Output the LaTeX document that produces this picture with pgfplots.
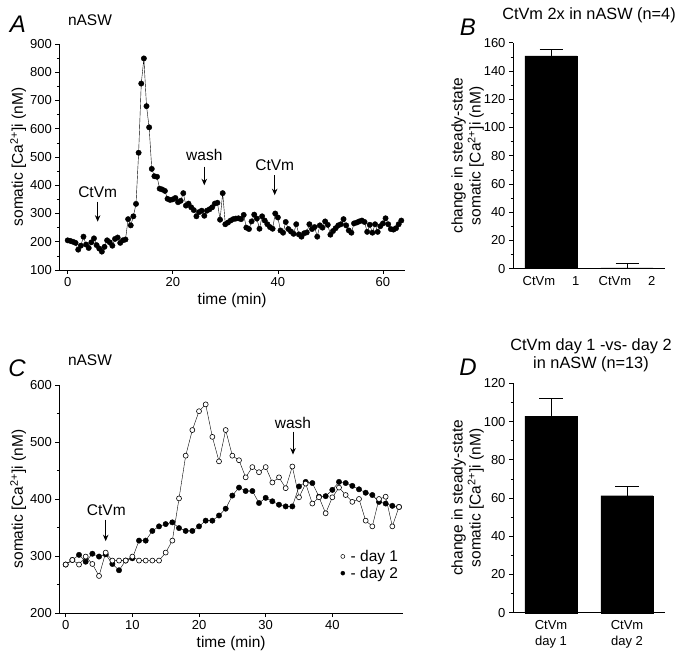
\documentclass[border=0pt]{standalone}
\usepackage{fontspec}
\setmainfont{Liberation Sans}
\usepackage{pgfplots}
\pgfplotsset{compat=1.18}
\usetikzlibrary{arrows.meta}

\pgfplotsset{
  myax/.style={scale only axis, axis lines*=left, tick align=outside, anchor=south west,
    axis line style={line width=0.6pt}, tick style={line width=0.6pt, black},
    tick label style={font=\fontsize{13}{13}\selectfont},
    label style={font=\fontsize{15.5}{18}\selectfont},
    /pgf/number format/assume math mode=true,
    major tick length=4pt, minor tick length=2.5pt, clip=false},
}
\tikzset{
  annot/.style={font=\fontsize{15.5}{18}\selectfont},
  ttl/.style={font=\fontsize{16.3}{18}\selectfont},
  arr/.style={-{Stealth[length=6.5pt,width=5.5pt]}, line width=1pt},
}

\pgfplotstableread[row sep=\\]{
t v\\
0 205\\ 0.5 203\\ 1 200\\ 1.5 196\\ 2 172\\ 2.5 186\\ 3 218\\ 3.5 190\\ 4 178\\ 4.5 198\\
5 212\\ 5.5 188\\ 6 176\\ 6.5 165\\ 7 182\\ 7.5 205\\ 8 198\\ 8.5 186\\ 9 210\\ 9.5 215\\
10 196\\ 10.5 205\\ 11 208\\ 11.5 280\\ 12 258\\ 12.5 290\\ 13 334\\ 13.5 515\\ 14 760\\ 14.5 849\\
15 680\\ 15.5 605\\ 16 458\\ 16.5 432\\ 17 430\\ 17.5 388\\ 18 385\\ 18.5 380\\ 19 352\\ 19.5 348\\
20 350\\ 20.5 355\\ 21 340\\ 21.5 345\\ 22 372\\ 22.5 328\\ 23 335\\ 23.5 322\\ 24 312\\ 24.5 290\\
25 305\\ 25.5 310\\ 26 292\\ 26.5 310\\ 27 315\\ 27.5 322\\ 28 335\\ 28.5 338\\ 29 278\\ 29.5 372\\
30 262\\ 30.5 268\\ 31 275\\ 31.5 280\\ 32 282\\ 32.5 283\\ 33 280\\ 33.5 295\\ 34 250\\ 34.5 245\\
35 272\\ 35.5 296\\ 36 282\\ 36.5 246\\ 37 290\\ 37.5 275\\ 38 262\\ 38.5 252\\ 39 246\\ 39.5 300\\
40 286\\ 40.5 240\\ 41 232\\ 41.5 270\\ 42 245\\ 42.5 236\\ 43 228\\ 43.5 262\\ 44 226\\ 44.5 218\\
45 230\\ 45.5 233\\ 46 262\\ 46.5 245\\ 47 252\\ 47.5 218\\ 48 258\\ 48.5 250\\ 49 272\\ 49.5 260\\
50 225\\ 50.5 238\\ 51 248\\ 51.5 258\\ 52 262\\ 52.5 280\\ 53 258\\ 53.5 240\\ 54 232\\ 54.5 265\\
55 268\\ 55.5 272\\ 56 275\\ 56.5 270\\ 57 235\\ 57.5 260\\ 58 232\\ 58.5 262\\ 59 235\\ 59.5 255\\
60 265\\ 60.5 283\\ 61 262\\ 61.5 245\\ 62 243\\ 62.5 248\\ 63 262\\ 63.5 275\\
}\dataA

\pgfplotstableread[row sep=\\]{
t d1 d2\\
0 285 285\\ 1 293 293\\ 2 285 302\\ 3 299 290\\ 4 286 304\\ 5 265 299\\ 6 306 303\\ 7 292 286\\
8 292 275\\ 9 292 292\\ 10 299 296\\ 11 292 327\\ 12 292 327\\ 13 292 344\\ 14 292 352\\ 15 306 356\\
16 327 359\\ 17 401 349\\ 18 476 344\\ 19 521 344\\ 20 554 352\\ 21 566 362\\ 22 509 362\\ 23 466 371\\
24 521 383\\ 25 476 406\\ 26 468 420\\ 27 438 414\\ 28 456 414\\ 29 447 393\\ 30 456 402\\ 31 429 396\\
32 438 390\\ 33 419 387\\ 34 457 387\\ 35 403 422\\ 36 427 430\\ 37 392 428\\ 38 403 404\\ 39 375 405\\
40 403 416\\ 41 420 430\\ 42 407 428\\ 43 395 423\\ 44 400 417\\ 45 362 411\\ 46 352 407\\ 47 400 395\\
48 404 392\\ 49 352 388\\ 50 386 386\\
}\dataC

\begin{document}
\begin{tikzpicture}
\useasboundingbox (0pt,0pt) rectangle (681pt,657pt);

% Panel letters and titles
\node[font=\fontsize{24}{24}\selectfont\itshape] at (18pt,633pt) {A};
\node[font=\fontsize{24}{24}\selectfont\itshape] at (468pt,630pt) {B};
\node[font=\fontsize{24}{24}\selectfont\itshape] at (17pt,289pt) {C};
\node[font=\fontsize{24}{24}\selectfont\itshape] at (468pt,290pt) {D};
\node[annot] at (90pt,637pt) {nASW};
\node[annot] at (90pt,297pt) {nASW};
\node[ttl] at (589pt,642pt) {CtVm 2x in nASW (n=4)};
\node[ttl, align=center] at (591pt,302pt) {CtVm day 1 -vs- day 2\\in nASW (n=13)};

% Panel A
\begin{axis}[myax, at={(59.3pt,387pt)}, width=345.7pt, height=226pt,
  xmin=-1.6, xmax=64.2, ymin=100, ymax=900,
  xtick={0,20,40,60}, ytick={100,200,...,900}, minor y tick num=1,
  ylabel style={yshift=-3pt},
  xlabel={time (min)}, ylabel={somatic [Ca\textsuperscript{2+}]i (nM)}]
\addplot[black, line width=0.4pt, mark=*, mark size=2.7pt, mark options={fill=black}] table[x=t,y=v] {\dataA};
\node[annot] at (axis cs:5.7,374) {CtVm};
\draw[arr] (axis cs:5.7,342) -- (axis cs:5.7,271);
\node[annot] at (axis cs:26.0,507) {wash};
\draw[arr] (axis cs:26.0,466) -- (axis cs:26.0,400);
\node[annot] at (axis cs:39.4,472) {CtVm};
\draw[arr] (axis cs:39.4,436) -- (axis cs:39.4,365);
\end{axis}

% Panel B
\begin{axis}[myax, at={(513pt,388.3pt)}, width=152pt, height=226pt,
  xmin=0.5, xmax=2.5, ymin=0, ymax=160,
  xtick={1,2}, xticklabels={CtVm\hspace{1.3em}1, CtVm\hspace{1.3em}2},
  major x tick style={draw=none},
  ytick={0,20,...,160}, minor y tick num=1,
  ylabel style={align=center, yshift=-7pt},
  ylabel={change in steady-state\\somatic [Ca\textsuperscript{2+}]i (nM)}]
\addplot[ybar, bar width=0.69, fill=black, draw=black,
  error bars/.cd, y dir=plus, y explicit,
  error bar style={line width=0.6pt},
  error mark options={rotate=90, mark size=11.5pt, line width=0.6pt}]
  coordinates {(1,150.6) +- (0,4.7) (2,0.5) +- (0,3.3)};
\end{axis}

% Panel C
\begin{axis}[myax, at={(59.3pt,44pt)}, width=343.7pt, height=228pt,
  xmin=-0.96, xmax=50.6, ymin=200, ymax=600,
  xtick={0,10,20,30,40}, ytick={200,300,...,600}, minor y tick num=1,
  ylabel style={yshift=-3pt},
  xlabel={time (min)}, ylabel={somatic [Ca\textsuperscript{2+}]i (nM)},
  legend style={at={(rel axis cs:0.995,0.29)}, anchor=north east, draw=none, fill=none,
    font=\fontsize{15.5}{18}\selectfont, row sep=0pt, inner sep=1pt},
  legend cell align=left]
\addlegendimage{only marks, mark=*, mark size=2pt, mark options={fill=white, line width=0.5pt}}
\addlegendentry{\hspace{0.25em}- day 1}
\addlegendimage{only marks, mark=*, mark size=2pt, mark options={fill=black}}
\addlegendentry{\hspace{0.25em}- day 2}
\addplot[forget plot, black, line width=0.4pt, mark=*, mark size=2.7pt, mark options={fill=black}] table[x=t,y=d2] {\dataC};
\addplot[forget plot, black, line width=0.4pt, mark=*, mark size=2.5pt, mark options={fill=white, line width=0.6pt}] table[x=t,y=d1] {\dataC};
\node[annot] at (axis cs:6.1,381) {CtVm};
\draw[arr] (axis cs:6.0,364) -- (axis cs:6.0,326);
\node[annot] at (axis cs:34.1,534) {wash};
\draw[arr] (axis cs:34.1,518) -- (axis cs:34.1,478);
\end{axis}

% Panel D
\begin{axis}[myax, at={(513pt,44.3pt)}, width=152pt, height=229.4pt,
  xmin=0.5, xmax=2.5, ymin=0, ymax=120,
  xtick={1,2}, xticklabels={{CtVm\\day 1},{CtVm\\day 2}},
  xticklabel style={align=center, font=\fontsize{13}{16}\selectfont},
  major x tick style={draw=none},
  ytick={0,20,...,120}, minor y tick num=1,
  ylabel style={align=center, yshift=-7pt},
  ylabel={change in steady-state\\somatic [Ca\textsuperscript{2+}]i (nM)}]
\addplot[ybar, bar width=0.69, fill=black, draw=black,
  error bars/.cd, y dir=plus, y explicit,
  error bar style={line width=0.6pt},
  error mark options={rotate=90, mark size=12pt, line width=0.6pt}]
  coordinates {(1,102.8) +- (0,9.1) (2,61.2) +- (0,4.9)};
\end{axis}
\end{tikzpicture}
\end{document}
